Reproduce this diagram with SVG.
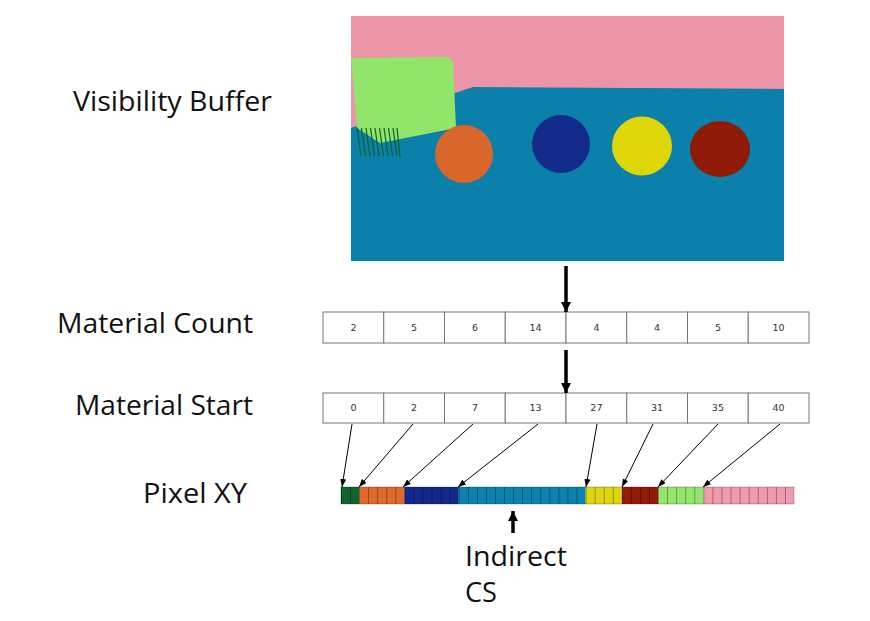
<svg xmlns="http://www.w3.org/2000/svg" width="870" height="621" viewBox="0 0 870 621">
<style>
.lbl{font-family:"Open Sans","Liberation Sans",sans-serif;font-size:28px;fill:#111}
.cell{fill:#fff;stroke:#777;stroke-width:1}
.num{font-family:"DejaVu Sans","Liberation Sans",sans-serif;font-size:9.5px;fill:#333;text-anchor:middle}
.thick{stroke:#000;stroke-width:3.5;fill:none}
.thin{stroke:#000;stroke-width:1;fill:none}
</style>
<defs>
<marker id="bigHead" viewBox="0 0 10 12" refX="10" refY="6" markerWidth="10" markerHeight="12" markerUnits="userSpaceOnUse" orient="auto">
<path d="M0,1 L10,6 L0,11 Z" fill="#000"/>
</marker>
<marker id="smallHead" viewBox="0 0 8 6" refX="8" refY="3" markerWidth="8" markerHeight="6" markerUnits="userSpaceOnUse" orient="auto">
<path d="M0,0 L8,3 L0,6 Z" fill="#000"/>
</marker>
<pattern id="grid" patternUnits="userSpaceOnUse" x="341" y="487" width="9.06" height="17">
<line x1="0.4" y1="0" x2="0.4" y2="17" stroke="rgba(0,0,0,0.45)" stroke-width="0.8"/>
</pattern>
</defs>
<rect width="870" height="621" fill="#fff"/>

<g id="visibility-buffer">
<rect x="351" y="16" width="433" height="245" fill="#EC95A8"/>
<polygon points="351,128 455,93 473,87 784,89 784,261 351,261" fill="#0A80AB"/>
<polygon points="351,58 448,57 453,62 456,128 380,143 357,128" fill="#92E46A"/>
<g stroke="#0F5F2A" stroke-width="1.2">
<line x1="357" y1="128" x2="361" y2="156"/>
<line x1="361.5" y1="128" x2="365.5" y2="156"/>
<line x1="366" y1="128" x2="370" y2="156"/>
<line x1="370.5" y1="128" x2="374.5" y2="156"/>
<line x1="375" y1="128" x2="379" y2="156"/>
<line x1="379.5" y1="128" x2="383.5" y2="156"/>
<line x1="384" y1="128" x2="388" y2="156"/>
<line x1="388.5" y1="128" x2="392.5" y2="156"/>
<line x1="393" y1="128" x2="397" y2="156"/>
<line x1="397" y1="128" x2="400" y2="157"/>
</g>
<circle cx="464" cy="154" r="29" fill="#D9662A"/>
<circle cx="561" cy="144" r="29" fill="#132B8A"/>
<ellipse cx="642" cy="146" rx="30" ry="29.5" fill="#DFD60A"/>
<ellipse cx="720" cy="149" rx="30" ry="28" fill="#8E1A07"/>
</g>

<g id="labels">
<text class="lbl" x="73" y="111" textLength="199" lengthAdjust="spacingAndGlyphs">Visibility Buffer</text>
<text class="lbl" x="57" y="333" textLength="196" lengthAdjust="spacingAndGlyphs">Material Count</text>
<text class="lbl" x="75" y="415" textLength="178" lengthAdjust="spacingAndGlyphs">Material Start</text>
<text class="lbl" x="143" y="503" textLength="104" lengthAdjust="spacingAndGlyphs">Pixel XY</text>
<text class="lbl" x="465" y="566" textLength="102" lengthAdjust="spacingAndGlyphs">Indirect</text>
<text class="lbl" x="465" y="602" textLength="32" lengthAdjust="spacingAndGlyphs">CS</text>
</g>

<g id="material-count">
<rect class="cell" x="323" y="312" width="60.75" height="31"/>
<rect class="cell" x="383.75" y="312" width="60.75" height="31"/>
<rect class="cell" x="444.5" y="312" width="60.75" height="31"/>
<rect class="cell" x="505.25" y="312" width="60.75" height="31"/>
<rect class="cell" x="566" y="312" width="60.75" height="31"/>
<rect class="cell" x="626.75" y="312" width="60.75" height="31"/>
<rect class="cell" x="687.5" y="312" width="60.75" height="31"/>
<rect class="cell" x="748.25" y="312" width="60.75" height="31"/>
<text class="num" x="353.4" y="331">2</text>
<text class="num" x="414.1" y="331">5</text>
<text class="num" x="474.9" y="331">6</text>
<text class="num" x="535.6" y="331">14</text>
<text class="num" x="596.4" y="331">4</text>
<text class="num" x="657.1" y="331">4</text>
<text class="num" x="717.9" y="331">5</text>
<text class="num" x="778.6" y="331">10</text>
</g>

<g id="material-start">
<rect class="cell" x="323" y="393" width="60.75" height="30"/>
<rect class="cell" x="383.75" y="393" width="60.75" height="30"/>
<rect class="cell" x="444.5" y="393" width="60.75" height="30"/>
<rect class="cell" x="505.25" y="393" width="60.75" height="30"/>
<rect class="cell" x="566" y="393" width="60.75" height="30"/>
<rect class="cell" x="626.75" y="393" width="60.75" height="30"/>
<rect class="cell" x="687.5" y="393" width="60.75" height="30"/>
<rect class="cell" x="748.25" y="393" width="60.75" height="30"/>
<text class="num" x="353.4" y="411">0</text>
<text class="num" x="414.1" y="411">2</text>
<text class="num" x="474.9" y="411">7</text>
<text class="num" x="535.6" y="411">13</text>
<text class="num" x="596.4" y="411">27</text>
<text class="num" x="657.1" y="411">31</text>
<text class="num" x="717.9" y="411">35</text>
<text class="num" x="778.6" y="411">40</text>
</g>

<g id="pixel-xy">
<rect x="341" y="487" width="18.12" height="17" fill="#12652B"/>
<rect x="359.12" y="487" width="45.3" height="17" fill="#DD6A2A"/>
<rect x="404.42" y="487" width="54.36" height="17" fill="#13288A"/>
<rect x="458.78" y="487" width="126.84" height="17" fill="#0B83AE"/>
<rect x="585.62" y="487" width="36.24" height="17" fill="#DCD60C"/>
<rect x="621.86" y="487" width="36.24" height="17" fill="#941A08"/>
<rect x="658.1" y="487" width="45.3" height="17" fill="#93E56B"/>
<rect x="703.4" y="487" width="90.6" height="17" fill="#EE9AB0"/>
<rect x="341" y="487" width="453" height="17" fill="url(#grid)"/>
<rect x="341" y="487" width="453" height="17" fill="none" stroke="rgba(0,0,0,0.3)" stroke-width="0.8"/>
</g>

<g id="connectors">
<line class="thick" x1="566" y1="266" x2="566" y2="312" marker-end="url(#bigHead)"/>
<line class="thick" x1="566" y1="350" x2="566" y2="393" marker-end="url(#bigHead)"/>
<line class="thick" x1="513" y1="533" x2="513" y2="511" marker-end="url(#bigHead)"/>
<line class="thin" x1="352" y1="424" x2="342" y2="487" marker-end="url(#smallHead)"/>
<line class="thin" x1="413" y1="424" x2="359" y2="487" marker-end="url(#smallHead)"/>
<line class="thin" x1="473" y1="424" x2="403" y2="487" marker-end="url(#smallHead)"/>
<line class="thin" x1="538" y1="424" x2="458" y2="487" marker-end="url(#smallHead)"/>
<line class="thin" x1="597" y1="424" x2="586" y2="487" marker-end="url(#smallHead)"/>
<line class="thin" x1="653" y1="424" x2="622" y2="487" marker-end="url(#smallHead)"/>
<line class="thin" x1="718" y1="424" x2="658" y2="487" marker-end="url(#smallHead)"/>
<line class="thin" x1="780" y1="424" x2="703" y2="487" marker-end="url(#smallHead)"/>
</g>
</svg>
